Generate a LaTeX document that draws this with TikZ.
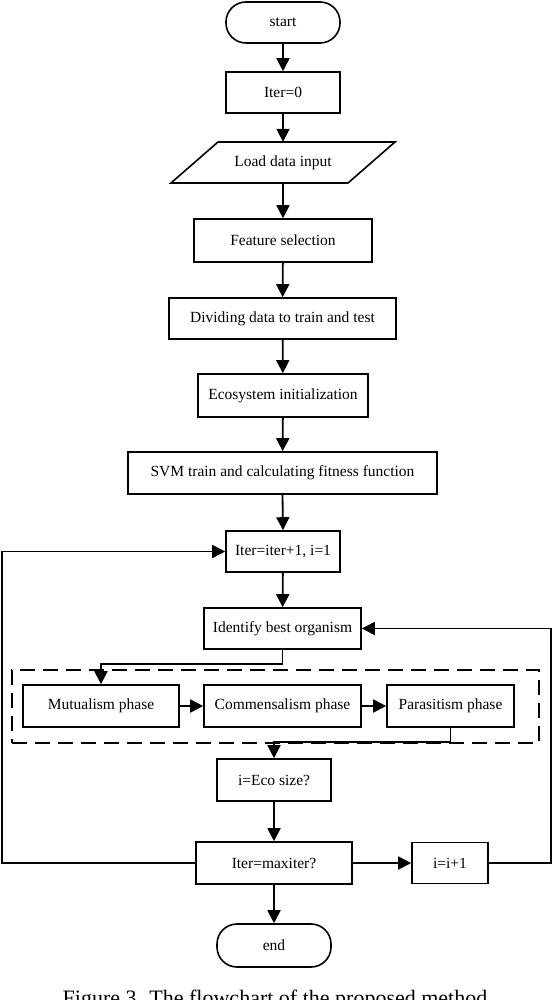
\documentclass[tikz,border=0pt]{standalone}
\usepackage{fontspec}
\setmainfont{Liberation Serif}
\usetikzlibrary{arrows.meta}
\begin{document}
\begin{tikzpicture}[x=1pt,y=-1pt,
  box/.style={draw, line width=1.6pt, minimum height=42pt, inner sep=0pt,
              font=\fontsize{15.5}{18}\selectfont},
  term/.style={box, rounded corners=20pt},
  plain/.style={minimum height=41pt, inner sep=0pt, font=\fontsize{15.5}{18}\selectfont},
  arr/.style={line width=1.8pt, -{Triangle[length=13pt,width=13pt]}},
  link/.style={line width=1.8pt},
  grp/.style={draw, line width=1.8pt, dash pattern=on 15pt off 8pt, inner sep=0pt}]
\useasboundingbox (0,0) rectangle (554,1000);

% nodes
\node[term, minimum width=114pt, minimum height=41pt] (start) at (283,22.5) {start};
\node[box, minimum width=114pt, minimum height=41pt] (iter0) at (283,92.5) {Iter=0};
\draw[line width=1.6pt] (171,183) -- (218,142) -- (395,142) -- (348,183) -- cycle;
\node[plain, minimum width=177pt] (ld) at (283,162.5) {Load data input};
\node[box, minimum width=178pt, minimum height=43pt] (fs) at (283,240.5) {Feature selection};
\node[box, minimum width=227pt, minimum height=41pt] (div) at (282.5,318.5) {Dividing data to train and test};
\node[box, minimum width=170pt, minimum height=43pt] (eco) at (283,395.5) {Ecosystem initialization};
\node[box, minimum width=309pt] (svm) at (282.5,473) {SVM train and calculating fitness function};
\node[box, minimum width=114pt, minimum height=41pt] (it1) at (283,551.5) {Iter=iter+1, i=1};
\node[box, minimum width=157pt, minimum height=41pt] (ibo) at (282.5,628.5) {Identify best organism};
\node[grp, minimum width=527pt, minimum height=73pt] (grpbox) at (275.5,706.5) {};
\node[box, minimum width=156pt] (mut) at (101,706) {Mutualism phase};
\node[box, minimum width=157pt] (com) at (282.5,706) {Commensalism phase};
\node[box, minimum width=127pt] (par) at (450.5,706) {Parasitism phase};
\node[box, minimum width=114pt] (ieco) at (274,780) {i=Eco size?};
\node[box, minimum width=156pt] (maxit) at (274,863) {Iter=maxiter?};
\node[box, minimum width=76pt, minimum height=41pt] (ii) at (450,863) {i=i+1};
\node[term, minimum width=114pt, minimum height=43pt] (end) at (274,945.5) {end};
\node[anchor=base, inner sep=0pt, font=\fontsize{22}{26}\selectfont] (cap) at (275,1005) {Figure 3. The flowchart of the proposed method};

\coordinate (lft) at (2,0);
\coordinate (rgt) at (551,0);

% connectors
\draw[arr] (start) -- (iter0);
\draw[arr] (iter0) -- (ld);
\draw[arr] (ld) -- (fs);
\draw[arr] (fs) -- (div);
\draw[arr] (div) -- (eco);
\draw[arr] (eco) -- (svm);
\draw[arr] (svm.south) -- (it1.north);
\draw[arr] (it1) -- (ibo);
\draw[arr] (ibo.south) -- ++(0,14) -| (mut.north);
\draw[arr] (mut) -- (com);
\draw[arr] (com) -- (par);
\draw[arr] (par.south) -- ++(0,14) -| (ieco.north);
\draw[arr] (ieco) -- (maxit);
\draw[arr] (maxit) -- (end);
\draw[arr] (maxit) -- (ii);
\draw[arr] (ii.east) -- (ii.east -| rgt) |- (ibo.east);
\draw[arr] (maxit.west) -- (maxit.west -| lft) |- (it1.west);
\end{tikzpicture}
\end{document}
